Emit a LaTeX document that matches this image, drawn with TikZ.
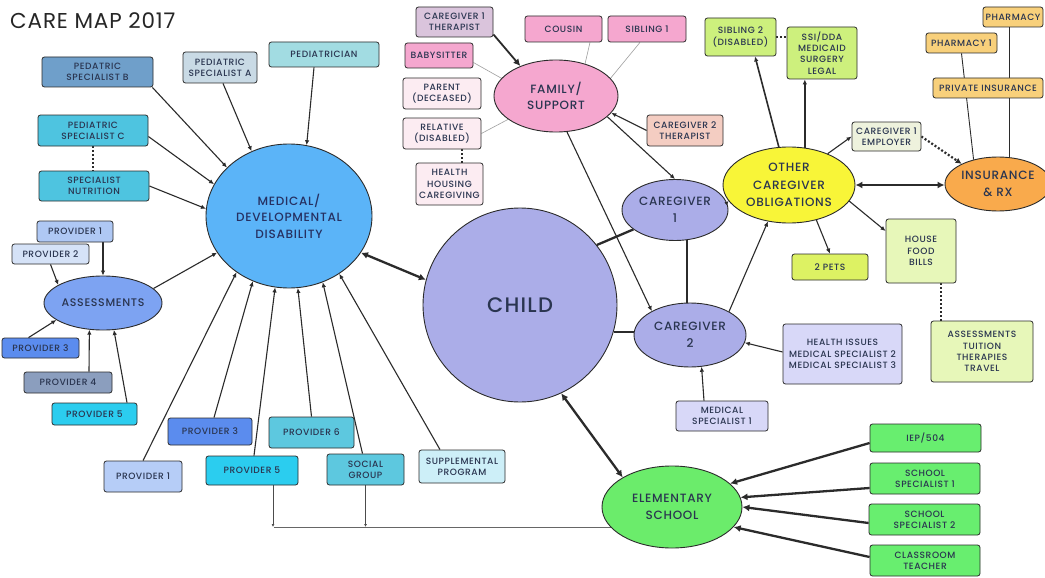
\documentclass[tikz,border=0pt]{standalone}
\usepackage{fontspec}
\setmainfont{Poppins}[LetterSpace=6, UprightFont=* Medium]
\newfontfamily\titlefont{Poppins}[LetterSpace=4]
\usetikzlibrary{shapes.geometric,arrows.meta}
\pgfdeclarelayer{bg}
\pgfsetlayers{bg,main}

\definecolor{edge}{HTML}{2B2B2B}
\definecolor{ink}{HTML}{2A3550}
\definecolor{cMed}{HTML}{5BB4F8}
\definecolor{cChild}{HTML}{ABADE8}
\definecolor{cPink}{HTML}{F5A7CF}
\definecolor{cYellow}{HTML}{F8F538}
\definecolor{cOrange}{HTML}{F9AA4C}
\definecolor{cAssess}{HTML}{7DA3F2}
\definecolor{cGreenB}{HTML}{6BEC6B}
\definecolor{cPedB}{HTML}{6F9FCA}
\definecolor{cPedA}{HTML}{C9DAE5}
\definecolor{cPeds}{HTML}{A2DCE2}
\definecolor{cSpec}{HTML}{4EC4E0}
\definecolor{cPa1}{HTML}{AFC8F4}
\definecolor{cPa2}{HTML}{D5E2F7}
\definecolor{cPa3}{HTML}{5B8CEE}
\definecolor{cPa4}{HTML}{8B9EBE}
\definecolor{cPa5}{HTML}{2BCDEF}
\definecolor{cPb1}{HTML}{B6CDF7}
\definecolor{cPb6}{HTML}{5DC8DF}
\definecolor{cSupp}{HTML}{CDEFF8}
\definecolor{cMauve}{HTML}{DAC4DC}
\definecolor{cBlush}{HTML}{FCECF2}
\definecolor{cPeach}{HTML}{F4CDC2}
\definecolor{cLime}{HTML}{CDF07D}
\definecolor{cCream}{HTML}{EEF2DD}
\definecolor{cAmber}{HTML}{F8D07B}
\definecolor{cPets}{HTML}{DDF263}
\definecolor{cPale}{HTML}{E7F7B9}
\definecolor{cLav}{HTML}{D8D8F8}
\definecolor{cGreen}{HTML}{68EE6F}

\begin{document}
\begin{tikzpicture}[x=1pt,y=-1pt,
  sz/.style 2 args={minimum width=#1pt, minimum height=#2pt},
  box/.style={draw=edge, line width=0.8pt, rounded corners=2.5pt, inner sep=0pt,
    align=center, text=ink, font=\fontsize{9.1}{11.3}\selectfont},
  blob/.style={ellipse, draw=edge, line width=0.9pt, inner sep=0pt},
  blobtext/.style={align=center, text=ink, inner sep=0pt, font=\fontsize{12}{16.5}\selectfont},
  link/.style={line width=1.1pt, draw=edge},
  arr/.style={link, -{Latex[length=5pt,width=4.5pt]}},
  heavy/.style={line width=2.3pt, draw=edge},
  harr/.style={heavy, -{Latex[length=7pt,width=7pt]}},
  hboth/.style={heavy, {Latex[length=7pt,width=7pt]}-{Latex[length=7pt,width=7pt]}},
  faint/.style={line width=0.6pt, draw=gray!75},
  dots/.style={line width=2.2pt, draw=edge, dash pattern=on 2pt off 2pt},
  tiny/.style={line width=0.9pt, draw=black!70, -{Latex[length=3pt,width=3pt]}},
  greylink/.style={line width=0.9pt, draw=black!60}
]
\useasboundingbox (0,0) rectangle (1045,578);

\node[anchor=base west, inner sep=0pt, font=\titlefont\fontsize{21.5}{23}\selectfont, text=black!85] (title) at (10,29) {CARE MAP 2017};

% ---- main ellipses
\node[blob, fill=cMed, sz={166}{144}] (med) at (289,216) {};
\node[blobtext, text=ink!90!blue] (medT) at (med) {MEDICAL/\\DEVELOPMENTAL\\DISABILITY};
\node[blob, fill=cChild, sz={194}{194}] (child) at (520,305) {};
\node[blobtext, font=\fontsize{21}{24}\selectfont] (childT) at (child) {CHILD};
\node[blob, fill=cChild, sz={106}{61}] (cg1) at (675,210) {};
\node[blobtext] (cg1T) at (cg1) {CAREGIVER\\1};
\node[blob, fill=cChild, sz={112}{64}] (cg2) at (690,335) {};
\node[blobtext] (cg2T) at (cg2) {CAREGIVER\\2};
\node[blob, fill=cPink, sz={124}{72}] (family) at (556,96) {};
\node[blobtext] (familyT) at (family) {FAMILY/\\SUPPORT};
\node[blob, fill=cYellow, sz={132}{76}] (obl) at (789,185) {};
\node[blobtext, font=\fontsize{12}{17.5}\selectfont] (oblT) at (obl) {OTHER\\CAREGIVER\\OBLIGATIONS};
\node[blob, fill=cOrange, sz={106}{54}] (ins) at (998,184) {};
\node[blobtext] (insT) at (ins) {INSURANCE\\\&~RX};
\node[blob, fill=cAssess, sz={118}{54}] (assess) at (103,303) {};
\node[blobtext, font=\fontsize{11}{14}\selectfont] (assessT) at (assess) {ASSESSMENTS};
\node[blob, fill=cGreenB, sz={140}{82}] (school) at (672,507) {};
\node[blobtext] (schoolT) at (school) {ELEMENTARY\\SCHOOL};

% ---- medical providers
\node[box, fill=cPedB, sz={111}{30}] (pedB) at (97.5,72) {PEDATRIC\\SPECIALIST B};
\node[box, fill=cPedA, sz={74}{31}] (pedA) at (220,67.5) {PEDIATRIC\\SPECIALIST A};
\node[box, fill=cPeds, sz={110}{25}] (peds) at (324,54.5) {PEDIATRICIAN};
\node[box, fill=cSpec, sz={110}{31}] (pedC) at (93,130.5) {PEDIATRIC\\SPECIALIST C};
\node[box, fill=cSpec, sz={110}{30}] (nutr) at (94,186) {SPECIALIST\\NUTRITION};
\node[box, fill=cPa1, sz={76}{21}] (pA1) at (75,231.5) {PROVIDER 1};
\node[box, fill=cPa2, sz={77}{20}] (pA2) at (50.5,254) {PROVIDER 2};
\node[box, fill=cPa3, sz={77}{20}] (pA3) at (40.5,348) {PROVIDER 3};
\node[box, fill=cPa4, sz={88}{21}] (pA4) at (68,382.5) {PROVIDER 4};
\node[box, fill=cPa5, sz={85}{22}] (pA5) at (94.5,414) {PROVIDER 5};
\node[box, fill=cPb1, sz={78}{31}] (pB1) at (143,476.5) {PROVIDER 1};
\node[box, fill=cPa3, sz={84}{27}] (pB3) at (210,431.5) {PROVIDER 3};
\node[box, fill=cPa5, sz={92}{29}] (pB5) at (252,470.5) {PROVIDER 5};
\node[box, fill=cPb6, sz={85}{31}] (pB6) at (311.5,432.5) {PROVIDER 6};
\node[box, fill=cPb6, sz={77}{31}] (social) at (365.5,469.5) {SOCIAL\\GROUP};
\node[box, fill=cSupp, sz={86}{33}] (supp) at (462,466.5) {SUPPLEMENTAL\\PROGRAM};

% ---- family and support
\node[box, fill=cMauve, sz={77}{30}] (cg1th) at (454.5,22) {CAREGIVER 1\\THERAPIST};
\node[box, fill=cPink, sz={77}{26}] (cousin) at (563.5,29) {COUSIN};
\node[box, fill=cPink, sz={78}{26}] (sib1) at (647,29) {SIBLING 1};
\node[box, fill=cPink, sz={68}{25}] (sitter) at (439,55.5) {BABYSITTER};
\node[box, fill=cBlush, sz={78}{31}] (parent) at (442,93.5) {PARENT\\(DECEASED)};
\node[box, fill=cBlush, sz={78}{31}] (relative) at (442,133.5) {RELATIVE\\(DISABLED)};
\node[box, fill=cBlush, sz={67}{42}] (homecare) at (449.5,184) {HEALTH\\HOUSING\\CAREGIVING};
\node[box, fill=cPeach, sz={76}{31}] (cg2th) at (685,130.5) {CAREGIVER 2\\THERAPIST};

% ---- obligations and insurance
\node[box, fill=cLime, sz={71}{38}] (sib2) at (740.5,37) {SIBLING 2\\(DISABLED)};
\node[box, fill=cLime, sz={70}{52}] (ssi) at (822,53) {SSI/DDA\\MEDICAID\\SURGERY\\LEGAL};
\node[box, fill=cCream, sz={69}{29}] (employer) at (886.5,136.5) {CAREGIVER 1\\EMPLOYER};
\node[box, fill=cAmber, sz={60}{20}] (pharm) at (1013,17) {PHARMACY};
\node[box, fill=cAmber, sz={71}{20}] (pharm1) at (961.5,43) {PHARMACY 1};
\node[box, fill=cAmber, sz={110}{20}] (privins) at (988,88) {PRIVATE INSURANCE};
\node[box, fill=cPets, sz={76}{26}] (pets) at (830,267) {2 PETS};
\node[box, fill=cPale, sz={70}{64}] (house) at (921,251) {HOUSE\\FOOD\\BILLS};
\node[box, fill=cPale, sz={102}{61}] (tuition) at (982,351.5) {ASSESSMENTS\\TUITION\\THERAPIES\\TRAVEL};
\node[box, fill=cLav, sz={119}{60}] (issues) at (842.5,354) {HEALTH ISSUES\\MEDICAL SPECIALIST 2\\MEDICAL SPECIALIST 3};
\node[box, fill=cLav, sz={92}{30}] (medsp1) at (722,416) {MEDICAL\\SPECIALIST 1};

% ---- school
\node[box, fill=cGreen, sz={111}{28}] (iep) at (925.5,438) {IEP/504};
\node[box, fill=cGreen, sz={110}{31}] (ss1) at (925,478.5) {SCHOOL\\SPECIALIST 1};
\node[box, fill=cGreen, sz={111}{31}] (ss2) at (924.5,519.5) {SCHOOL\\SPECIALIST 2};
\node[box, fill=cGreen, sz={110}{31}] (teacher) at (925,560.5) {CLASSROOM\\TEACHER};

\coordinate (jct) at (274,527);

\begin{pgfonlayer}{bg}
  \fill[white] (0,0) rectangle (1045,578);
  % into the medical circle
  \draw[arr] ([xshift=-1pt]pedB.south east) -- (med.142);
  \draw[arr] ([yshift=-6pt]pedC.east) -- (med.157);
  \draw[arr] (nutr.east) -- (med.175);
  \draw[arr] ([xshift=3pt]pedA.south) -- (med.120);
  \draw[arr] ([xshift=-10pt]peds.south) -- (med.76);
  \draw[dots] (pedC.south) -- (pedC.south |- nutr.north);
  \draw[arr] (assess.16) -- (med.207);
  \draw[arr] (pB1.north) -- (med.227);
  \draw[arr] ([xshift=4pt]pB3.north) -- (med.241);
  \draw[arr] ([xshift=2pt]pB5.north) -- (med.259);
  \draw[arr] (pB6.north) -- (med.277);
  \draw[arr] ([xshift=-3pt]social.north) -- (med.297);
  \draw[arr] ([xshift=-22pt]supp.north) -- (med.311);
  % into assessments
  \draw[arr] ([xshift=28pt]pA1.south) -- ([xshift=28pt]pA1.south |- assess.north);
  \draw[arr] (pA2.south) -- (assess.158);
  \draw[arr] ([xshift=-12pt]pA3.north) -- (assess.200);
  \draw[arr] ([xshift=21pt]pA4.north) -- (assess.243);
  \draw[arr] ([xshift=32.5pt]pA5.north) -- (assess.292);
  % child and caregivers
  \draw[hboth] (med.333) -- (child.165);
  \draw[hboth] (child.295) -- (school.149);
  \draw[heavy] (child.38) -- (cg1.205);
  \draw[heavy] (child.344) -- (cg2.center |- child.344);
  \draw[heavy] ([xshift=12pt]cg1.center) -- ([xshift=12pt]cg1.center |- cg2.center);
  % family and support
  \draw[harr, line width=1.8pt] ([yshift=3pt]cg1th.south east) -- (family.140);
  \draw[faint] ([xshift=26.5pt]cousin.south) -- (family.48);
  \draw[faint] ([xshift=-7pt]sib1.south) -- (family.18);
  \draw[faint] ([yshift=-7pt]sitter.east) -- (family.162);
  \draw[faint] (relative.east) -- (family.206);
  \draw[dots] ([xshift=20pt]relative.south) -- ([xshift=20pt]relative.south |- homecare.north);
  \draw[arr] (cg2th.west) -- (family.343);
  \draw[arr] (family.338) -- (cg1.north);
  \draw[arr] (family.287) -- (cg2.148);
  % obligations
  \draw[arr] (cg2.31) -- (obl.240);
  \draw[arr, line width=1.6pt] (obl.105) -- ([xshift=14.5pt]sib2.south);
  \draw[arr, line width=1.6pt] (obl.67) -- (obl.67 |- ssi.south);
  \draw[dots] (sib2.east) -- (sib2.east -| ssi.west);
  \draw[arr] (obl.39) -- (employer.west);
  \draw[dots, -{Latex[length=6pt,width=6pt]}] (employer.east) -- (ins.151);
  \draw[hboth, line width=2.6pt] (obl.east) -- (obl.east -| ins.west);
  \draw[link, line width=0.9pt] (pharm1.south) -- (ins.135);
  \draw[link, line width=0.9pt] ([xshift=-4pt]pharm.south) -- ([xshift=-4pt]pharm.south |- ins.center);
  \draw[arr] (obl.308) -- (pets.north);
  \draw[arr] (obl.345) -- ([yshift=20pt]house.west);
  \draw[dots] ([xshift=20pt]house.south) -- ([xshift=20pt]house.south |- tuition.north);
  \draw[arr] ([yshift=2pt]issues.west) -- (cg2.352);
  \draw[arr] ([xshift=-18pt]medsp1.north) -- (cg2.290);
  % school
  \draw[harr] ([yshift=-5pt]iep.west) -- (school.22);
  \draw[harr] ([yshift=-9.5pt]ss1.west) -- (school.8);
  \draw[harr] ([yshift=-3.5pt]ss2.west) -- (school.east);
  \draw[harr] ([yshift=3.5pt]teacher.west) -- (school.342);
  % bottom feed line
  \draw[tiny] ([xshift=21pt]pB5.south) -- ([xshift=21pt]pB5.south |- jct);
  \draw[tiny] (social.south) -- (social.south |- jct);
  \draw[greylink] (jct) -- (jct -| school.center);
\end{pgfonlayer}

% short hand-off from caregiver 1 into the obligations bubble
\draw[line width=1pt, draw=edge, -{Latex[length=4pt,width=4pt]}] (cg1.8) -- (obl.195);
\end{tikzpicture}
\end{document}
